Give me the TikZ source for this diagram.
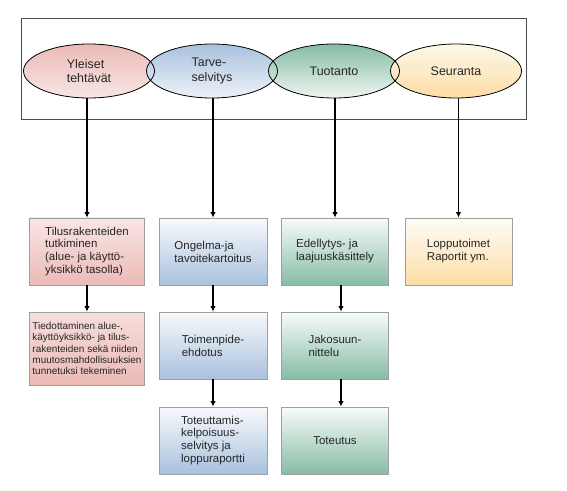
\documentclass[tikz,border=0pt]{standalone}
\usepackage{fontspec}
\setmainfont{Liberation Sans}
\usetikzlibrary{arrows.meta, shapes.geometric}

\definecolor{roseT}{HTML}{EBBAB7}
\definecolor{roseB}{HTML}{F8E6E4}
\definecolor{blueT}{HTML}{A9C1DD}
\definecolor{blueB}{HTML}{EEF2F8}
\definecolor{greenT}{HTML}{86BCA5}
\definecolor{greenB}{HTML}{EEF6F1}
\definecolor{sandT}{HTML}{FEF7EA}
\definecolor{sandB}{HTML}{FCDDA5}

\begin{document}
\begin{tikzpicture}[x=1bp, y=-1bp,
  every node/.style={font=\fontsize{11.5}{13}\selectfont, text=black!85, align=left},
  phase/.style={ellipse, inner sep=0pt, minimum width=131bp, minimum height=54bp,
    font=\fontsize{12.5}{14.5}\selectfont},
  rim/.style={phase, draw=black, line width=0.8pt},
  task/.style={rectangle, draw=gray!75, line width=0.8pt, inner sep=0pt,
    minimum width=108bp, minimum height=67bp},
  arr/.style={-{Latex[length=5.5pt,width=5.5pt]}, line width=1.7pt}
]
  \useasboundingbox (0,0) rectangle (567,491);

  % kehys
  \draw[gray!60!black, line width=1pt] (21,19) rectangle (526,119);

  % vaiheet
  \foreach \n/\x/\txt/\ct/\cb in {
    e1/89/{Yleiset\\tehtävät}/roseT/roseB,
    e2/212/{Tarve-\\selvitys}/blueT/blueB,
    e3/334/{Tuotanto}/greenT/greenB,
    e4/456/{Seuranta}/sandT/sandB}
  {
    \node[phase, top color=\ct, bottom color=\cb] (\n) at (\x,71) {\txt};
  }
  \foreach \n in {e1,e2,e3,e4}
    \node[rim] (\n-rim) at (\n.center) {};

  % tehtävät
  \node[task, minimum width=115bp, top color=roseB, bottom color=roseT] (a1) at (87,251.5)
    {Tilusrakenteiden\\tutkiminen\\(alue- ja käyttö-\\yksikkö tasolla)};
  \node[task, top color=blueB!40, bottom color=blueT] (a2) at (213,251.5)
    {Ongelma-ja\\tavoitekartoitus};
  \node[task, minimum width=107bp, top color=greenB!40, bottom color=greenT] (a3) at (335,251.5)
    {Edellytys- ja\\laajuuskäsittely};
  \node[task, minimum width=107bp, top color=sandT!40, bottom color=sandB] (a4) at (458.5,251.5)
    {Lopputoimet\\Raportit ym.};

  \node[task, minimum width=115bp, minimum height=73bp, top color=roseB!80!roseT, bottom color=roseT,
    font=\fontsize{10}{11.4}\selectfont] (b1) at (87,348.5)
    {Tiedottaminen alue-,\\käyttöyksikkö- ja tilus-\\rakenteiden sekä niiden\\muutosmahdollisuuksien\\tunnetuksi tekeminen};
  \node[task, top color=blueB!40, bottom color=blueT] (b2) at (213,345.5)
    {Toimenpide-\\ehdotus};
  \node[task, minimum width=107bp, top color=greenB!40, bottom color=greenT] (b3) at (335,345.5)
    {Jakosuun-\\nittelu};

  \node[task, top color=blueB!40, bottom color=blueT] (c2) at (213,440.5)
    {Toteuttamis-\\kelpoisuus-\\selvitys ja\\loppuraportti};
  \node[task, minimum width=107bp, top color=greenB!40, bottom color=greenT] (c3) at (335,440.5)
    {Toteutus};

  % nuolet
  \foreach \e/\t in {e1/a1, e2/a2, e3/a3, e4/a4}
    \draw[arr] (\t.north |- \e.south) -- (\t.north);
  \draw[arr] (a1) -- (b1);
  \draw[arr] (a2) -- (b2);
  \draw[arr] (b2) -- (c2);
  \draw[arr] ([xshift=6pt]a3.south) -- ([xshift=6pt]b3.north);
  \draw[arr] ([xshift=6pt]b3.south) -- ([xshift=6pt]c3.north);
\end{tikzpicture}
\end{document}
